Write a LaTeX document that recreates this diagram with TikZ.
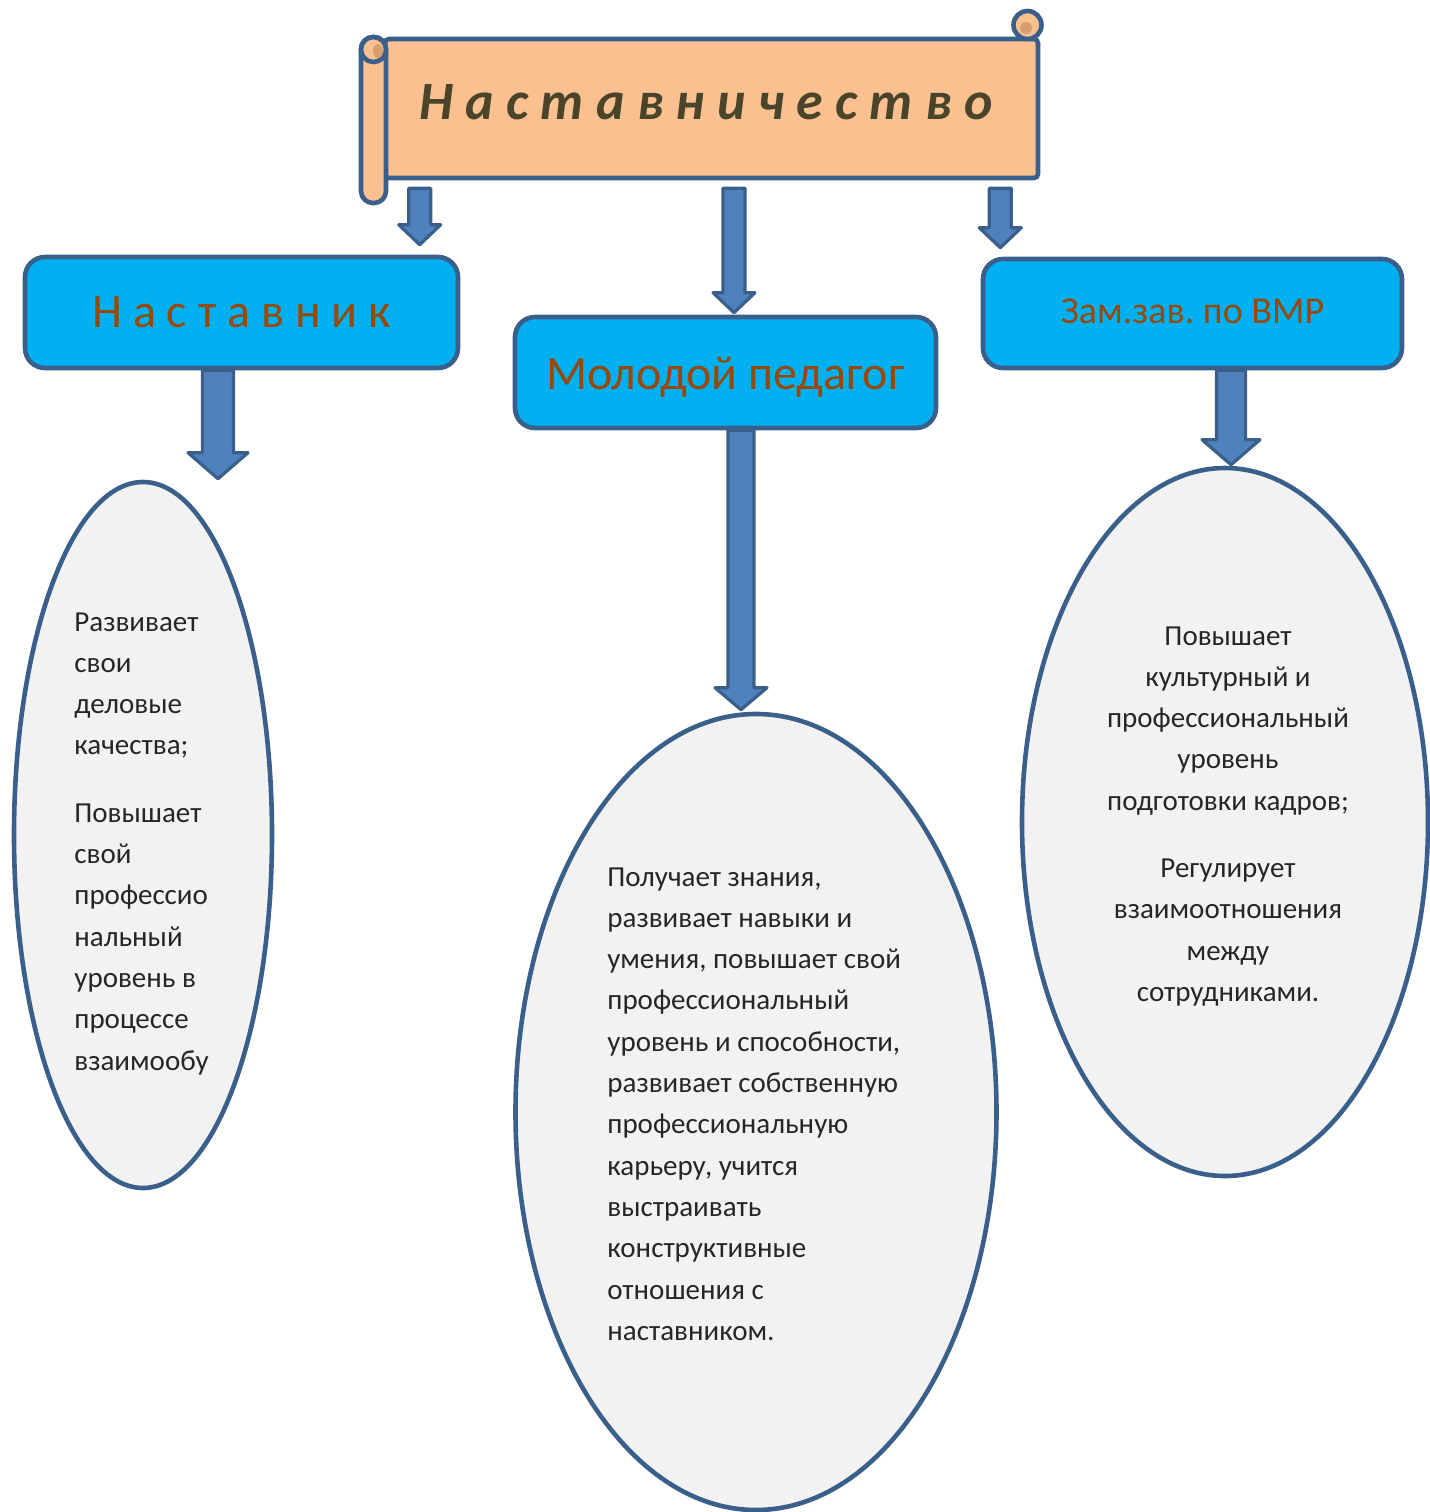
\documentclass[tikz,border=0pt]{standalone}
\usepackage{fontspec}
\setmainfont{Carlito}
\frenchspacing
\usetikzlibrary{shapes.geometric,calc}
\definecolor{scrollfill}{HTML}{FAC090}
\definecolor{curlfill}{HTML}{D69E6E}
\definecolor{edgeblue}{HTML}{3A5F8B}
\definecolor{boxblue}{HTML}{00B0F0}
\definecolor{boxtext}{HTML}{984807}
\definecolor{arrowblue}{HTML}{4F81BD}
\definecolor{ovalfill}{HTML}{F2F2F2}
\definecolor{bodytext}{HTML}{262626}
\definecolor{titletext}{HTML}{4A452A}
\tikzset{
  scrollline/.style={draw=edgeblue,line width=2.3pt,fill=scrollfill},
  rolebox/.style={draw=edgeblue,line width=2.3pt,fill=boxblue,rounded corners=10pt,text=boxtext,inner sep=0pt},
  oval/.style={ellipse,draw=edgeblue,line width=2.3pt,fill=ovalfill,inner sep=0pt},
  barrow/.style={draw=edgeblue,line width=1.6pt,fill=arrowblue,line join=round},
  bodytxt/.style={text=bodytext,inner sep=0pt,font=\fontsize{14.5pt}{20.65pt}\selectfont}
}
\newcommand\blockarr[5]{\draw[barrow]let\p1=#1,\p2=#2 in(\x1-#3,\y1)--(\x1+#3,\y1)--(\x1+#3,\y2+#5)--(\x1+#4,\y2+#5)--(\x1,\y2)--(\x1-#4,\y2+#5)--(\x1-#3,\y2+#5)--cycle;}
\begin{document}
\begin{tikzpicture}[x=0.5pt,y=-0.5pt]
\useasboundingbox(0,0)rectangle(1430,1512);
\node[scrollline,rounded corners=2pt,minimum width=326.5pt,minimum height=69.5pt,inner sep=0pt](scroll)at(711.5,108.5){};
\draw[scrollline,rounded corners=6pt](361,37)rectangle(386,203);
\draw[scrollline](373.5,49.5)circle(6.25pt);
\fill[curlfill](378,51)ellipse(2.5pt and 3.5pt);
\draw[scrollline](1027.5,25)circle(7pt);
\fill[curlfill](1026,28)circle(3pt);
\node[text=titletext,inner sep=0pt,font=\fontsize{27pt}{30pt}\selectfont\bfseries\itshape](title)at(706,102){Н а с т а в н и ч е с т в о};
\node[rolebox,minimum width=216.5pt,minimum height=55.5pt,font=\fontsize{24pt}{28pt}\selectfont](nast)at(241.5,312.5){Н а с т а в н и к};
\node[rolebox,minimum width=210.5pt,minimum height=55.5pt,font=\fontsize{24pt}{28pt}\selectfont](young)at(725.5,372.5){\raisebox{-2.5pt}[\height][\depth]{Молодой педагог}};
\node[rolebox,minimum width=209.5pt,minimum height=54.5pt,font=\fontsize{19pt}{24pt}\selectfont](zam)at(1192.5,313.5){\raisebox{1pt}[\height][\depth]{Зам.зав. по ВМР}};
\node[oval,minimum width=129pt,minimum height=353pt](lell)at(143,835){};
\node[oval,minimum width=240.5pt,minimum height=398pt](mell)at(756,1112){};
\node[oval,minimum width=203pt,minimum height=354pt](rell)at(1225,822){};
\node[bodytxt,align=left,anchor=north west](ltxt)at(74,612){Развивает\\свои\\деловые\\качества;\\[13pt]Повышает\\свой\\профессио\\нальный\\уровень в\\процессе\\взаимообу};
\node[bodytxt,align=left,anchor=north west](mtxt)at(607,867){Получает знания,\\развивает навыки и\\умения, повышает свой\\профессиональный\\уровень и способности,\\развивает собственную\\профессиональную\\карьеру, учится\\выстраивать\\конструктивные\\отношения с\\наставником.};
\node[bodytxt,align=center,anchor=north](rtxt)at(1228,626){Повышает\\культурный и\\профессиональный\\уровень\\подготовки кадров;\\[13pt]Регулирует\\взаимоотношения\\между\\сотрудниками.};
\blockarr{([xshift=18.5pt,yshift=-4pt]scroll.south west)}{([yshift=5pt]nast.north)}{5.5pt}{10.5pt}{10pt}
\blockarr{([xshift=11.25pt,yshift=-4pt]scroll.south)}{([yshift=1pt]young.north)}{5.5pt}{10.5pt}{10pt}
\blockarr{([xshift=-20pt,yshift=-4pt]scroll.south east)}{([yshift=4.5pt]zam.north)}{5.5pt}{10.5pt}{10pt}
\blockarr{([xshift=-11.75pt]nast.south)}{([yshift=0.5pt]lell.north)}{7.75pt}{15pt}{13pt}
\blockarr{([xshift=7.75pt]young.south)}{([yshift=1pt]mell.north)}{6.5pt}{13pt}{11pt}
\blockarr{([xshift=19.25pt]zam.south)}{([yshift=0.5pt]rell.north)}{7.25pt}{14.5pt}{12.5pt}
\end{tikzpicture}
\end{document}
